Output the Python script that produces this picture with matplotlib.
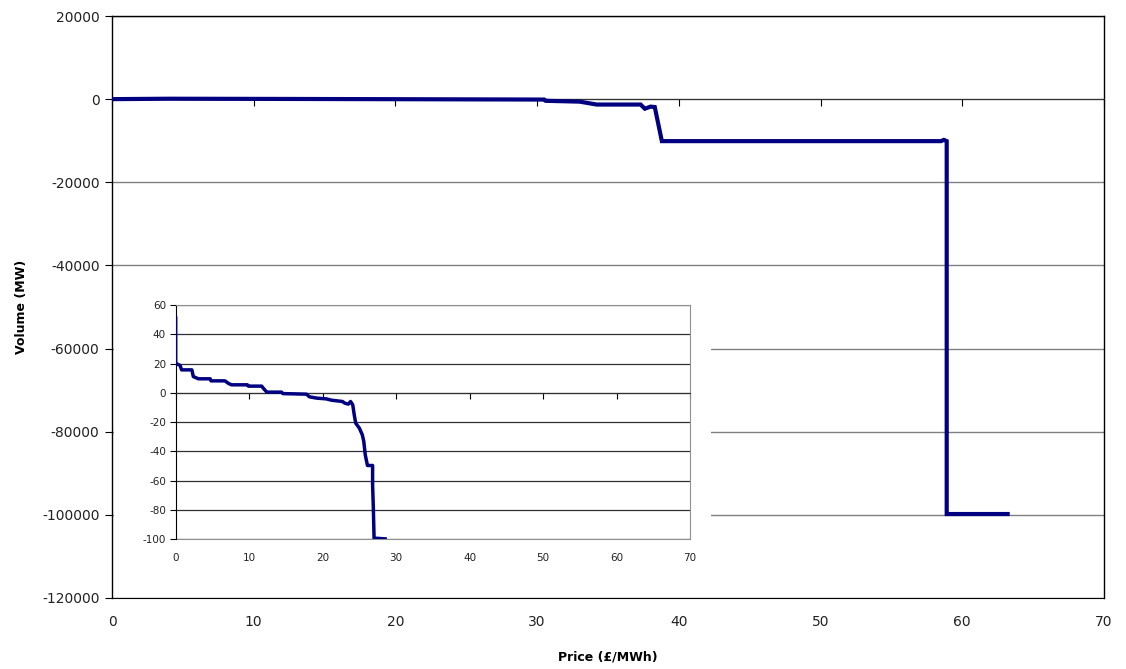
import matplotlib
matplotlib.use("Agg")
import matplotlib.pyplot as plt

# ---- main curve data (price £/MWh, volume MW) ----
main_price = [0, 4, 12, 18.5, 30.5, 30.6, 33, 34.2, 37.3, 37.6, 38.0, 38.3,
              38.8, 58.5, 58.7, 58.9, 58.9, 63.2]
main_volume = [0, 100, 50, 0, -100, -400, -600, -1300, -1300, -2300, -1800,
               -1900, -10100, -10100, -9800, -10100, -99800, -99800]

# ---- inset (zoomed) curve data ----
inset_price = [0, 0, 0.6, 0.8, 2.2, 2.4, 3.1, 4.7, 4.8, 6.7, 7.2, 7.6, 9.75,
               9.9, 11.7, 12.0, 12.4, 14.4, 14.6, 17.8, 18.2, 19.2, 20.5,
               21.2, 22.7, 23.0, 23.5, 23.8, 24.1, 24.3, 24.5, 25.0, 25.4,
               25.6, 25.8, 26.1, 26.8, 26.8, 26.9, 27.0, 28.5]
inset_volume = [51, 20.2, 18.7, 15.7, 15.7, 11.1, 9.6, 9.6, 8.2, 8.2, 6.4,
                5.5, 5.5, 4.6, 4.6, 2.7, 0.5, 0.5, -0.5, -0.9, -2.7, -3.6,
                -4.1, -5.0, -5.9, -7.0, -7.7, -5.9, -8.2, -15.0, -20.7,
                -24.1, -28.7, -33.2, -42.3, -49.6, -49.6, -62.8, -78.7,
                -99.2, -99.7]

main_xticks = [0, 10, 20, 30, 40, 50, 60, 70]
main_yticks = [20000, 0, -20000, -40000, -60000, -80000, -100000, -120000]
inset_xticks = [0, 10, 20, 30, 40, 50, 60, 70]
inset_yticks = [60, 40, 20, 0, -20, -40, -60, -80, -100]

W, H = 1126, 669
fig = plt.figure(figsize=(W / 100, H / 100), dpi=100)
navy = "#000080"

def fx(px):
    return px / W

def fy(py):
    return 1 - py / H

# ---------- main axes ----------
L, R, T, B = 112, 1104, 16, 598
ax = fig.add_axes([fx(L), fy(B), fx(R - L), fy(T) - fy(B)])
ax.set_xlim(0, 70)
ax.set_ylim(-120000, 20000)
ax.set_yticks(main_yticks)
ax.set_yticklabels([str(v) for v in main_yticks], fontsize=10, color="#222222")
for v in main_yticks:
    ax.axhline(v, color="#808080", lw=1.0, zorder=0)
ax.plot(main_price, main_volume, color=navy, lw=3.0, solid_joinstyle="miter",
        zorder=3)
for s in ["top", "right", "left"]:
    ax.spines[s].set_color("black")
    ax.spines[s].set_linewidth(1.0)
ax.spines["bottom"].set_position(("data", 0))
ax.spines["bottom"].set_color("#333333")
ax.set_xticks(main_xticks)
ax.tick_params(axis="x", direction="out", length=5, labelbottom=False)
ax.tick_params(axis="y", direction="out", length=5, pad=4)
sec = ax.secondary_xaxis(0.0)
sec.set_xticks(main_xticks)
sec.set_xticklabels([str(v) for v in main_xticks], fontsize=10, color="#222222")
sec.tick_params(length=0, pad=12)
sec.spines["bottom"].set_color("black")
ax.set_ylabel("Volume (MW)", fontsize=9, fontweight="bold", labelpad=10)
sec.set_xlabel("Price (£/MWh)", fontsize=9, fontweight="bold", labelpad=16)

# ---------- white backdrop for inset ----------
bg = fig.add_axes([fx(113.5), fy(572), fx(711 - 113.5), fy(285) - fy(572)])
bg.set_facecolor("white")
bg.set_xticks([])
bg.set_yticks([])
for s in bg.spines.values():
    s.set_visible(False)

# ---------- inset axes ----------
iL, iR, iT, iB = 175.7, 690, 305, 539.3
ins = fig.add_axes([fx(iL), fy(iB), fx(iR - iL), fy(iT) - fy(iB)])
ins.set_xlim(0, 70)
ins.set_ylim(-100, 60)
ins.set_yticks(inset_yticks)
ins.set_yticklabels([str(v) for v in inset_yticks], fontsize=7.5, color="#222222")
for v in inset_yticks:
    ins.axhline(v, color="#303030", lw=0.9, zorder=0)
ins.plot(inset_price, inset_volume, color=navy, lw=2.5, zorder=3)
for s in ["top", "right"]:
    ins.spines[s].set_color("#909090")
ins.spines["left"].set_color("black")
ins.spines["bottom"].set_position(("data", 0))
ins.spines["bottom"].set_color("#303030")
ins.set_xticks(inset_xticks)
ins.tick_params(axis="x", direction="out", length=4, labelbottom=False)
ins.tick_params(axis="y", direction="out", length=4, pad=3)
isec = ins.secondary_xaxis(0.0)
isec.set_xticks(inset_xticks)
isec.set_xticklabels([str(v) for v in inset_xticks], fontsize=7.5, color="#222222")
isec.tick_params(length=0, pad=10)
isec.spines["bottom"].set_color("#909090")

fig.savefig("out.png", dpi=100, facecolor="white")
